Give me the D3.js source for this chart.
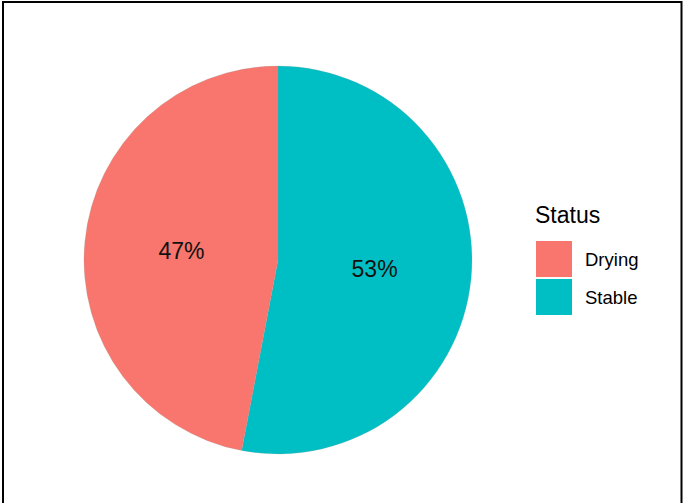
<!DOCTYPE html>
<html>
<head>
<meta charset="utf-8">
<script src="https://cdn.jsdelivr.net/npm/d3@7"></script>
<style>
  html, body { margin: 0; padding: 0; background: #fff; }
  svg { display: block; }
  text { font-family: "Liberation Sans", Arial, Helvetica, sans-serif; }
</style>
</head>
<body>
<svg id="chart" width="683" height="503"></svg>
<script>
// Share of lakes by status
const categories = ["Drying", "Stable"];
const shares = [47, 53];
const colors = ["#F8766D", "#00BFC4"];
const legendTitle = "Status";

const svg = d3.select("#chart");
const W = 683, H = 503;

svg.append("rect").attr("width", W).attr("height", H).attr("fill", "#fff");

// frame (top, left, right edges)
svg.append("path")
  .attr("d", "M3,503 V2 H681.5 V503")
  .attr("fill", "none")
  .attr("stroke", "#000")
  .attr("stroke-width", 2);

const cx = 278, cy = 260, R = 194;

const color = d3.scaleOrdinal().domain(categories).range(colors);

const rows = categories.map((c, i) => ({ cat: c, value: shares[i] }));
// stacked order: last category starts at 12 o'clock and runs clockwise
const pie = d3.pie().sort(null).value(d => d.value);
const arcs = pie(rows.slice().reverse());

const arc = d3.arc().innerRadius(0).outerRadius(R);
const labelArc = d3.arc().innerRadius(R / 2).outerRadius(R / 2);

const g = svg.append("g").attr("transform", `translate(${cx},${cy})`);

g.selectAll("path.slice")
  .data(arcs)
  .join("path")
  .attr("class", "slice")
  .attr("d", arc)
  .attr("fill", d => color(d.data.cat))
  .attr("stroke", "#8a9a98")
  .attr("stroke-opacity", 0.35)
  .attr("stroke-width", 0.6);

const total = d3.sum(shares);
g.selectAll("text.pct")
  .data(arcs)
  .join("text")
  .attr("class", "pct")
  .attr("transform", d => {
    const [x, y] = labelArc.centroid(d);
    return `translate(${x},${y})`;
  })
  .attr("text-anchor", "middle")
  .attr("dy", "0.36em")
  .attr("font-size", 23)
  .attr("fill", "#111")
  .text(d => Math.round(d.data.value / total * 100) + "%");

// legend
const lg = svg.append("g").attr("transform", "translate(535,0)");
lg.append("text")
  .attr("x", 0)
  .attr("y", 223)
  .attr("font-size", 23)
  .attr("fill", "#000")
  .text(legendTitle);

const keyY = d3.scaleBand().domain(categories).range([241, 315]).paddingInner(0.05);

const items = lg.selectAll("g.item")
  .data(categories)
  .join("g")
  .attr("class", "item")
  .attr("transform", d => `translate(0,${keyY(d)})`);

items.append("rect")
  .attr("x", 1)
  .attr("y", 0)
  .attr("width", 36)
  .attr("height", keyY.bandwidth())
  .attr("fill", d => color(d));

items.append("text")
  .attr("x", 50)
  .attr("y", keyY.bandwidth() / 2)
  .attr("dy", "0.36em")
  .attr("font-size", 18.5)
  .attr("fill", "#000")
  .text(d => d);
</script>
</body>
</html>
